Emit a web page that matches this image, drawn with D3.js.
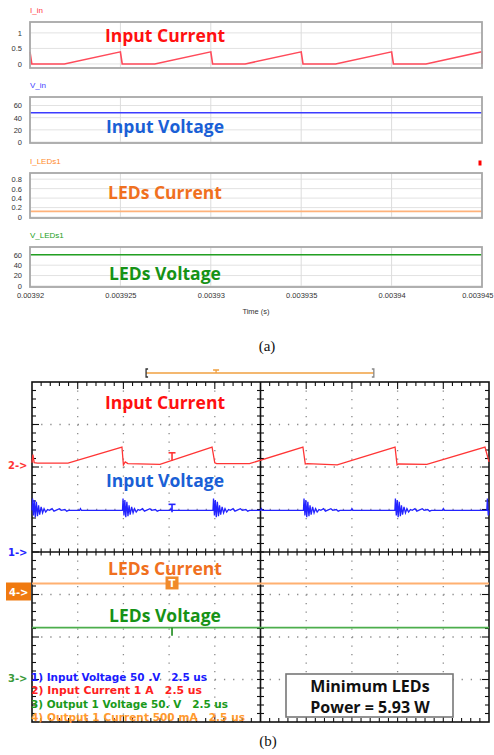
<!DOCTYPE html>
<html><head><meta charset="utf-8">
<script src="https://cdn.jsdelivr.net/npm/d3@7"></script>
<style>body{margin:0;background:#fff}svg{display:block}</style>
</head><body>
<svg id="fig" width="494" height="755"></svg>
<script>
// ---------- (a) simulated waveforms ----------
const simTicks = [0.00392, 0.003925, 0.00393, 0.003935, 0.00394, 0.003945];
const simTickLabels = ["0.00392", "0.003925", "0.00393", "0.003935", "0.00394", "0.003945"];

// input current (A): sawtooth ramps, one per switching period
const simCurrentTime = [0.00392, 0.0039201, 0.0039219, 0.003925, 0.0039251, 0.0039269,
  0.00393, 0.0039301, 0.0039319, 0.003935, 0.0039351, 0.0039369, 0.00394, 0.0039401,
  0.0039419, 0.003945, 0.003945];
const simCurrent = [0.39, 0, 0, 0.39, 0, 0, 0.39, 0, 0, 0.39, 0, 0, 0.39, 0, 0, 0.39, 0];

const simFlatTime = [0.00392, 0.003945];
const simInputVoltage = [48, 48];
const simLedCurrent = [0.12, 0.12];
const simLedVoltage = [60, 60];

const vTicks = [0, 20, 40, 60];
const iInTicks = [0, 0.5, 1];
const iLedTicks = [0, 0.2, 0.4, 0.6, 0.8];

// ---------- (b) oscilloscope capture (time in µs) ----------
// channel 2: input current (A), 1 A/div
const ch2Time = [0, 0.05, 0.12, 0.3, 1.97, 4.92, 5.0, 5.1, 5.25, 7.0, 9.85, 10.0, 10.1, 11.9,
  14.82, 14.95, 15.05, 16.7, 19.86, 19.97, 20.05, 21.6, 24.78, 25];
const ch2Current = [0.05, 0.24, 0.05, 0.04, 0.04, 0.42, 0.0, 0.07, 0.03, 0.01, 0.42, 0.05, 0.03, 0.03,
  0.42, 0.02, 0.03, 0.0, 0.42, 0.0, 0.02, 0.01, 0.42, 0.07];

// channel 1: input voltage (V), 50 V/div, with ringing after each switching edge
const ch1Level = 49;
const ch1Edges = [0, 4.95, 9.9, 14.85, 19.85, 24.88];
const ringDt = [0, 0.03, 0.08, 0.13, 0.18, 0.24, 0.3, 0.36, 0.42, 0.5, 0.58, 0.66, 0.75, 0.85,
  0.95, 1.1, 1.2, 1.3, 1.5, 1.6, 1.8, 1.9, 2.0, 2.6, 2.65, 2.7];
const ringDv = [0, 14, -6, 12, -8, 10, -7, 6, -5, 4, -3, 2, -2, 1, 0, 2, -1, 0, 2, 0, 1, -1, 0, 0, 2, 0];

// channel 4: LED current (mA), 500 mA/div ; channel 3: LED voltage (V), 50 V/div
const ch4Current = [130, 130];
const ch3Voltage = [59, 59];
const scopeTime = [0, 25];

const legendLines = [
  {text: "1) Input Voltage 50 .V   2.5 us", color: "#1a1aff", w: 176},
  {text: "2) Input Current 1 A   2.5 us", color: "#ff2020", w: 171},
  {text: "3) Output 1 Voltage 50. V   2.5 us", color: "#1a9a1a", w: 197},
  {text: "4) Output 1 Current 500 mA   2.5 us", color: "#ff9a30", w: 214}
];

const svg = d3.select("#fig");
const annoFont = "'Open Sans', Lato, sans-serif";
const annoSize = 17.5;

// ================= (a) =================
const xA = d3.scaleLinear().domain([0.00392, 0.003945]).range([30, 482]);

const panels = [
  {name: "I_in", color: "#ff4a5a", labColor: "#ff3a4a", top: 22, bottom: 68, domain: [-0.13, 1.35],
   ticks: iInTicks, t: simCurrentTime, v: simCurrent},
  {name: "V_in", color: "#3b3bff", labColor: "#4040ff", top: 97, bottom: 143, domain: [-1.6, 74],
   ticks: vTicks, t: simFlatTime, v: simInputVoltage},
  {name: "I_LEDs1", color: "#ffb27a", labColor: "#ff8a2a", top: 173, bottom: 218, domain: [-0.02, 0.93],
   ticks: iLedTicks, t: simFlatTime, v: simLedCurrent},
  {name: "V_LEDs1", color: "#22a022", labColor: "#22a022", top: 247, bottom: 287, domain: [-2, 75],
   ticks: vTicks, t: simFlatTime, v: simLedVoltage}
];

panels.forEach(p => {
  const y = d3.scaleLinear().domain(p.domain).range([p.bottom, p.top]);
  const g = svg.append("g");
  // grid
  g.selectAll(".hg").data(p.ticks).join("line")
    .attr("x1", 30).attr("x2", 482).attr("y1", d => y(d)).attr("y2", d => y(d))
    .attr("stroke", "#e2e2e2").attr("stroke-width", 1);
  g.selectAll(".vg").data(simTicks).join("line")
    .attr("x1", d => xA(d)).attr("x2", d => xA(d)).attr("y1", p.top).attr("y2", p.bottom)
    .attr("stroke", "#dcdcdc").attr("stroke-width", 1);
  // y axis labels
  const ax = d3.axisLeft(y).tickValues(p.ticks).tickSize(0).tickPadding(8).tickFormat(d => d);
  const ag = g.append("g").attr("transform", "translate(30,0)").call(ax);
  ag.select(".domain").remove();
  ag.selectAll("text").attr("font-family", "'Liberation Sans', Arial, sans-serif")
    .attr("font-size", 7.5).attr("fill", "#333");
  // trace
  const line = d3.line().x((d, i) => xA(p.t[i])).y(d => y(d));
  g.append("path").attr("d", line(p.v)).attr("fill", "none")
    .attr("stroke", p.color).attr("stroke-width", 1.6);
  // frame
  g.append("rect").attr("x", 30).attr("y", p.top).attr("width", 452).attr("height", p.bottom - p.top)
    .attr("fill", "none").attr("stroke", "#a8a8a8").attr("stroke-width", 1.8);
  // trace name
  g.append("text").attr("x", 30).attr("y", p.top - 9).text(p.name)
    .attr("font-family", "'Liberation Sans', Arial, sans-serif").attr("font-size", 8)
    .attr("fill", p.labColor);
});

// x axis of the bottom panel
const xAxisA = d3.axisBottom(xA).tickValues(simTicks).tickSize(0).tickPadding(6)
  .tickFormat((d, i) => simTickLabels[i]);
const xg = svg.append("g").attr("transform", "translate(0,287)").call(xAxisA);
xg.select(".domain").remove();
xg.selectAll("text").attr("font-family", "'Liberation Sans Narrow', 'Liberation Sans', sans-serif")
  .attr("font-size", 7.5).attr("fill", "#333");
// keep the last label inside the page
xg.selectAll(".tick:last-of-type text").attr("text-anchor", "end").attr("dx", 11);
svg.append("text").attr("x", 256).attr("y", 314).attr("text-anchor", "middle").text("Time (s)")
  .attr("font-family", "'Liberation Sans Narrow', 'Liberation Sans', sans-serif").attr("font-size", 7.5).attr("fill", "#333");

// small red marker at the top right of the I_LEDs1 panel
svg.append("rect").attr("x", 478.5).attr("y", 160.5).attr("width", 3).attr("height", 5).attr("fill", "#ff0000");

const annA = [
  {t: "Input Current", c: "#ff1010", y: 42},
  {t: "Input Voltage", c: "#1a5fd6", y: 133},
  {t: "LEDs Current", c: "#f07020", y: 199},
  {t: "LEDs Voltage", c: "#169216", y: 280}
];
svg.selectAll(".annA").data(annA).join("text")
  .attr("x", 165).attr("y", d => d.y).attr("text-anchor", "middle").text(d => d.t)
  .attr("font-family", annoFont).attr("font-weight", 700).attr("font-size", annoSize).attr("fill", d => d.c);

svg.append("text").attr("x", 267).attr("y", 351).attr("text-anchor", "middle").text("(a)")
  .attr("font-family", "'Liberation Serif', 'Times New Roman', serif").attr("font-size", 15).attr("fill", "#111");

// ================= (b) =================
const L = 32, R = 489, T = 382, B = 722;
const divW = (R - L) / 10, divH = (B - T) / 8;
const xB = d3.scaleLinear().domain(scopeTime).range([L, R]);
const sc = svg.append("g");

// dotted graticule
const vx = d3.range(1, 10).filter(i => i !== 5).map(i => L + i * divW);
const hy = d3.range(1, 8).filter(i => i !== 4).map(i => T + i * divH);
sc.selectAll(".vdot").data(vx).join("line")
  .attr("x1", d => d).attr("x2", d => d).attr("y1", T).attr("y2", B)
  .attr("stroke", "#8a8a8a").attr("stroke-width", 1.3).attr("stroke-dasharray", `1.3,${divH / 5 - 1.3}`);
sc.selectAll(".hdot").data(hy).join("line")
  .attr("x1", L).attr("x2", R).attr("y1", d => d).attr("y2", d => d)
  .attr("stroke", "#8a8a8a").attr("stroke-width", 1.3).attr("stroke-dasharray", `1.3,${divW / 5 - 1.3}`);

// frame and centre axes with minor ticks
const cx = L + 5 * divW, cy = T + 4 * divH;
const axisStroke = "#111";
sc.append("rect").attr("x", L).attr("y", T).attr("width", R - L).attr("height", B - T)
  .attr("fill", "none").attr("stroke", axisStroke).attr("stroke-width", 1.6);
sc.append("line").attr("x1", L).attr("x2", R).attr("y1", cy).attr("y2", cy).attr("stroke", axisStroke).attr("stroke-width", 1.6);
sc.append("line").attr("x1", cx).attr("x2", cx).attr("y1", T).attr("y2", B).attr("stroke", axisStroke).attr("stroke-width", 1.6);
const xMinor = d3.range(1, 50).map(i => L + i * divW / 5);
const yMinor = d3.range(1, 40).map(i => T + i * divH / 5);
const tickG = sc.append("g").attr("stroke", axisStroke).attr("stroke-width", 1.1);
xMinor.forEach((x, i) => {
  const major = (i + 1) % 5 === 0;
  const len = major ? 7 : 4;
  tickG.append("line").attr("x1", x).attr("x2", x).attr("y1", T).attr("y2", T + len);
  tickG.append("line").attr("x1", x).attr("x2", x).attr("y1", B).attr("y2", B - len);
  tickG.append("line").attr("x1", x).attr("x2", x).attr("y1", cy - 3.5).attr("y2", cy + 3.5);
});
yMinor.forEach((y, i) => {
  const major = (i + 1) % 5 === 0;
  const len = major ? 7 : 4;
  tickG.append("line").attr("y1", y).attr("y2", y).attr("x1", L).attr("x2", L + len);
  tickG.append("line").attr("y1", y).attr("y2", y).attr("x1", R).attr("x2", R - len);
  tickG.append("line").attr("y1", y).attr("y2", y).attr("x1", cx - 3.5).attr("x2", cx + 3.5);
});

// channel reference levels (y of 0) and scale factors (units per division)
const ch = {
  1: {ref: cy, perDiv: 50, color: "#2323ff"},
  2: {ref: cy - 2.05 * divH, perDiv: 1, color: "#ff3535"},
  3: {ref: cy + 2.96 * divH, perDiv: 50, color: "#4cae4c"},
  4: {ref: cy + 1.0 * divH, perDiv: 500, color: "#ffb070"}
};
const yCh = (n, v) => ch[n].ref - v / ch[n].perDiv * divH;

// ch4 and ch3 (flat)
sc.append("path").attr("d", d3.line().x((d, i) => xB(scopeTime[i])).y(d => yCh(4, d))(ch4Current))
  .attr("fill", "none").attr("stroke", ch[4].color).attr("stroke-width", 2);
sc.append("path").attr("d", d3.line().x((d, i) => xB(scopeTime[i])).y(d => yCh(3, d))(ch3Voltage))
  .attr("fill", "none").attr("stroke", ch[3].color).attr("stroke-width", 1.8);

// ch1: input voltage with ringing bursts
const ch1Pts = [];
ch1Edges.forEach(e => {
  ringDt.forEach((dt, i) => {
    if (e + dt <= 25) ch1Pts.push([e + dt, ch1Level + ringDv[i]]);
  });
});
ch1Pts.push([25, ch1Level]);
sc.append("path").attr("d", d3.line().x(d => xB(d[0])).y(d => yCh(1, d[1]))(ch1Pts))
  .attr("fill", "none").attr("stroke", ch[1].color).attr("stroke-width", 1.3);

// ch2: input current
sc.append("path").attr("d", d3.line().x((d, i) => xB(ch2Time[i])).y(d => yCh(2, d))(ch2Current))
  .attr("fill", "none").attr("stroke", ch[2].color).attr("stroke-width", 1.3);

// trigger markers
const trigT = 7.66;
const tx = xB(trigT);
function tMark(y, color) {
  sc.append("line").attr("x1", tx - 3.5).attr("x2", tx + 3.5).attr("y1", y - 4).attr("y2", y - 4).attr("stroke", color).attr("stroke-width", 1.6);
  sc.append("line").attr("x1", tx).attr("x2", tx).attr("y1", y - 4).attr("y2", y + 4).attr("stroke", color).attr("stroke-width", 1.6);
}
tMark(yCh(2, 0.19), ch[2].color);
tMark(yCh(1, ch1Level) - 2, ch[1].color);
sc.append("rect").attr("x", tx - 6.5).attr("y", yCh(4, ch4Current[0]) - 7).attr("width", 13).attr("height", 13).attr("fill", "#f08a2a");
sc.append("text").attr("x", tx).attr("y", yCh(4, ch4Current[0]) + 4).attr("text-anchor", "middle").text("T")
  .attr("font-family", "'DejaVu Sans', sans-serif").attr("font-size", 10).attr("font-weight", 700).attr("fill", "#fff");
sc.append("line").attr("x1", tx).attr("x2", tx).attr("y1", yCh(3, ch3Voltage[0])).attr("y2", yCh(3, ch3Voltage[0]) + 8)
  .attr("stroke", "#1a8a1a").attr("stroke-width", 1.6);

// acquisition window bracket above the screen
const brY = 373;
const br = svg.append("g").attr("stroke", "#f0a040").attr("stroke-width", 1.3).attr("fill", "none");
br.append("line").attr("x1", xB(6.24)).attr("x2", xB(18.7)).attr("y1", brY).attr("y2", brY);
br.append("path").attr("d", `M${xB(6.24) + 2},${brY - 4}H${xB(6.24)}V${brY + 4}H${xB(6.24) + 2}`).attr("stroke", "#333");
br.append("path").attr("d", `M${xB(18.7) - 2},${brY - 4}H${xB(18.7)}V${brY + 4}H${xB(18.7) - 2}`).attr("stroke", "#888");
br.append("path").attr("d", `M${xB(10.07) - 3},${brY - 3}H${xB(10.07) + 3}M${xB(10.07)},${brY - 3}V${brY}`);

// channel ground markers
const markFont = "'DejaVu Sans', Verdana, sans-serif";
[[2, "2->"], [1, "1->"], [3, "3->"]].forEach(([n, t]) => {
  svg.append("text").attr("x", 8).attr("y", ch[n].ref + 4).text(t)
    .attr("font-family", markFont).attr("font-size", 10).attr("font-weight", 700)
    .attr("fill", n === 3 ? "#3a9a3a" : ch[n].color);
});
svg.append("rect").attr("x", 6).attr("y", ch[4].ref - 12).attr("width", 25).attr("height", 18).attr("fill", "#f07a10");
svg.append("text").attr("x", 9).attr("y", ch[4].ref + 1).text("4->")
  .attr("font-family", markFont).attr("font-size", 10).attr("font-weight", 700).attr("fill", "#fff");

// channel settings legend
svg.selectAll(".leg").data(legendLines).join("text")
  .attr("x", 31).attr("y", (d, i) => 681 + i * 13.3).text(d => d.text)
  .attr("textLength", d => d.w).attr("lengthAdjust", "spacingAndGlyphs")
  .attr("font-family", markFont).attr("font-size", 10).attr("font-weight", 700)
  .attr("fill", d => d.color).style("white-space", "pre");

// trace names
const annB = [
  {t: "Input Current", c: "#ff1010", y: 409},
  {t: "Input Voltage", c: "#1a5fd6", y: 487},
  {t: "LEDs Current", c: "#f07020", y: 575},
  {t: "LEDs Voltage", c: "#169216", y: 622}
];
svg.selectAll(".annB").data(annB).join("text")
  .attr("x", 165).attr("y", d => d.y).attr("text-anchor", "middle").text(d => d.t)
  .attr("font-family", annoFont).attr("font-weight", 700).attr("font-size", annoSize).attr("fill", d => d.c);

// power box
svg.append("rect").attr("x", 286).attr("y", 674).attr("width", 167).attr("height", 43)
  .attr("fill", "#fff").attr("stroke", "#777").attr("stroke-width", 1.6);
svg.append("text").attr("x", 370).attr("y", 692).attr("text-anchor", "middle").text("Minimum LEDs")
  .attr("font-family", annoFont).attr("font-weight", 700).attr("font-size", 16).attr("fill", "#111");
svg.append("text").attr("x", 370).attr("y", 713).attr("text-anchor", "middle").text("Power = 5.93 W")
  .attr("font-family", annoFont).attr("font-weight", 700).attr("font-size", 16).attr("fill", "#111");

svg.append("text").attr("x", 268).attr("y", 746).attr("text-anchor", "middle").text("(b)")
  .attr("font-family", "'Liberation Serif', 'Times New Roman', serif").attr("font-size", 15).attr("fill", "#111");
</script>
</body></html>
